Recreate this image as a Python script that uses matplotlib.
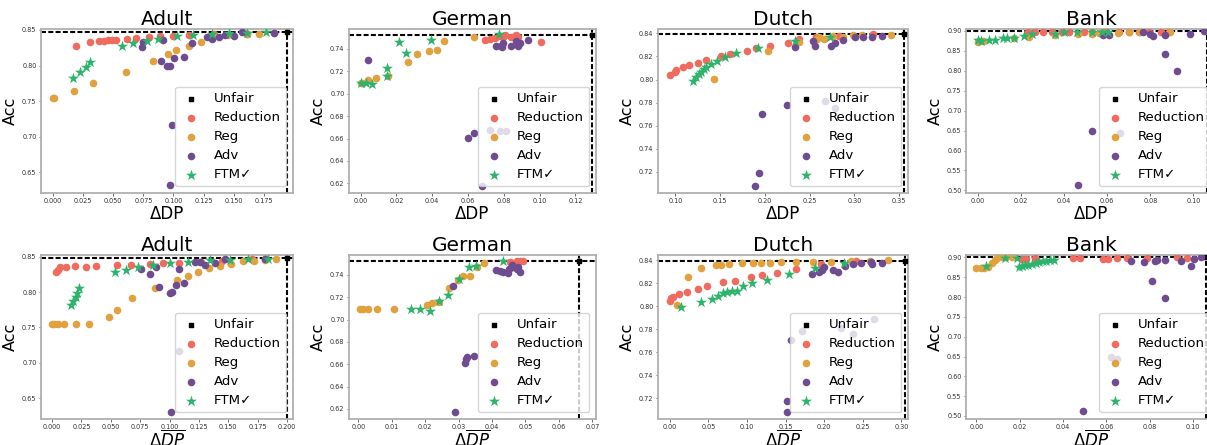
import matplotlib
matplotlib.use("Agg")
import matplotlib.pyplot as plt

# ---------------- data (DP, Acc) ----------------
methods = ["Unfair", "Reduction", "Reg", "Adv", "FTM\u2713"]
datasets = ["Adult", "German", "Dutch", "Bank"]

# Top row: x = DP
A1_red_x = [0.0191, 0.0307, 0.0385, 0.042, 0.0454, 0.0487, 0.0526, 0.0617, 0.0687, 0.0797, 0.0886, 0.0994, 0.1127, 0.1334, 0.161]
A1_red_y = [0.8277, 0.8326, 0.8345, 0.835, 0.8354, 0.8354, 0.8359, 0.8378, 0.8387, 0.8401, 0.8415, 0.8415, 0.8425, 0.8439, 0.844]
A1_reg_x = [0.0, 0.001, 0.0174, 0.033, 0.0606, 0.0828, 0.0952, 0.1025, 0.1127, 0.1227, 0.1334, 0.145, 0.161, 0.1714, 0.1833]
A1_reg_y = [0.7547, 0.7551, 0.7645, 0.775, 0.7913, 0.8063, 0.8167, 0.8223, 0.8279, 0.8331, 0.8411, 0.8425, 0.844, 0.8448, 0.8453]
A1_adv_x = [0.0748, 0.0742, 0.0914, 0.0894, 0.0975, 0.0950, 0.1002, 0.1088, 0.1157, 0.0991, 0.0975, 0.128, 0.1323, 0.138, 0.150, 0.157, 0.1833, 0.143]
A1_adv_y = [0.8326, 0.8256, 0.8359, 0.8068, 0.80, 0.80, 0.81, 0.8124, 0.8322, 0.7167, 0.6317, 0.840, 0.8369, 0.8397, 0.842, 0.8467, 0.8462, 0.843]
A1_ftm_x = [0.0166, 0.0224, 0.0277, 0.0305, 0.0573, 0.0667, 0.0778, 0.0875, 0.103, 0.1163, 0.1318, 0.1462, 0.1611, 0.1769]
A1_ftm_y = [0.7829, 0.7904, 0.7979, 0.805, 0.8275, 0.8312, 0.834, 0.8378, 0.8415, 0.8425, 0.8439, 0.8453, 0.8462, 0.8467]
A1_unfair = (0.1943, 0.8472)

G1_red_x = [0.0694, 0.0722, 0.075, 0.0778, 0.0806, 0.0838, 0.0868, 0.088, 0.1006, 0.0797]
G1_red_y = [0.7474, 0.7486, 0.7498, 0.751, 0.7522, 0.7504, 0.7519, 0.75, 0.7462, 0.75]
G1_reg_x = [0.0, 0.0006, 0.0041, 0.0088, 0.0155, 0.0265, 0.0315, 0.0382, 0.0429, 0.0468, 0.0634]
G1_reg_y = [0.709, 0.7094, 0.7124, 0.7142, 0.7154, 0.7281, 0.735, 0.7379, 0.7391, 0.7471, 0.7504]
G1_adv_x = [0.0041, 0.0601, 0.0631, 0.0722, 0.0778, 0.081, 0.0679, 0.0756, 0.0787, 0.0797, 0.0838, 0.0868, 0.088, 0.089, 0.0933, 0.0791]
G1_adv_y = [0.7299, 0.6605, 0.6652, 0.6679, 0.6664, 0.6664, 0.618, 0.7424, 0.7424, 0.745, 0.7424, 0.7465, 0.7424, 0.745, 0.7474, 0.7415]
G1_ftm_x = [0.0004, 0.0028, 0.0063, 0.0147, 0.0147, 0.0213, 0.0256, 0.0392, 0.0771]
G1_ftm_y = [0.7094, 0.7094, 0.7082, 0.7228, 0.716, 0.7462, 0.7361, 0.748, 0.7528]
G1_unfair = (0.1295, 0.7525)

D1_red_x = [0.0944, 0.10, 0.1011, 0.1082, 0.115, 0.125, 0.1344, 0.1512, 0.1613, 0.1796, 0.1905, 0.2062, 0.2256, 0.2383, 0.257, 0.283, 0.3206]
D1_red_y = [0.8039, 0.807, 0.8082, 0.8105, 0.8123, 0.8146, 0.8166, 0.8203, 0.8221, 0.825, 0.827, 0.8293, 0.8319, 0.8351, 0.8365, 0.838, 0.8391]
D1_reg_x = [0.1437, 0.2036, 0.2383, 0.2581, 0.2664, 0.287, 0.298, 0.309, 0.3411, 0.2607, 0.2757]
D1_reg_y = [0.8007, 0.8244, 0.8322, 0.8354, 0.8354, 0.8371, 0.8388, 0.8388, 0.8388, 0.8365, 0.8376]
D1_adv_x = [0.2335, 0.254, 0.2559, 0.2738, 0.278, 0.2877, 0.3004, 0.3093, 0.32, 0.331, 0.2252, 0.1965, 0.1935, 0.1886, 0.2675, 0.278]
D1_adv_y = [0.8282, 0.8334, 0.8293, 0.8293, 0.8313, 0.8339, 0.8365, 0.8368, 0.8371, 0.838, 0.7782, 0.7706, 0.7195, 0.7079, 0.7813, 0.775]
D1_ftm_x = [0.1194, 0.1232, 0.1262, 0.1292, 0.1321, 0.1348, 0.1393, 0.146, 0.1553, 0.168, 0.1923, 0.2335, 0.2731]
D1_ftm_y = [0.799, 0.8024, 0.8047, 0.8068, 0.8088, 0.8111, 0.8131, 0.8157, 0.8198, 0.8232, 0.8273, 0.8331, 0.8371]
D1_unfair = (0.3553, 0.8394)

B1_red_x = [0.0234, 0.0268, 0.0302, 0.0346, 0.0392, 0.0423, 0.0493, 0.0532, 0.0594, 0.0656, 0.0702, 0.0749, 0.0795, 0.085, 0.0888]
B1_red_y = [0.8985, 0.8985, 0.8985, 0.898, 0.898, 0.8975, 0.8975, 0.8975, 0.898, 0.898, 0.8985, 0.8975, 0.8975, 0.898, 0.898]
B1_reg_x = [0.0, 0.0008, 0.0023, 0.0167, 0.024, 0.036, 0.0467, 0.053, 0.065, 0.070, 0.075, 0.089, 0.056]
B1_reg_y = [0.873, 0.874, 0.875, 0.883, 0.886, 0.889, 0.8917, 0.893, 0.896, 0.8975, 0.8975, 0.8975, 0.8945]
B1_adv_x = [0.0583, 0.061, 0.0767, 0.080, 0.0812, 0.087, 0.0867, 0.0922, 0.0984, 0.105, 0.0532, 0.0465, 0.066]
B1_adv_y = [0.889, 0.889, 0.8967, 0.8933, 0.888, 0.889, 0.8416, 0.799, 0.8933, 0.90, 0.6488, 0.5135, 0.644]
B1_ftm_x = [0.0, 0.0017, 0.0051, 0.0079, 0.0118, 0.0136, 0.0167, 0.0214, 0.025, 0.0358, 0.04, 0.0462, 0.0532, 0.0578, 0.0602]
B1_ftm_y = [0.8775, 0.8758, 0.8775, 0.878, 0.8825, 0.8825, 0.883, 0.8875, 0.8917, 0.8925, 0.8975, 0.8975, 0.8975, 0.8975, 0.897]
B1_unfair = (0.1063, 0.901)

# Bottom row: x = DP-bar
A2_red_x = [0.0037, 0.0049, 0.0066, 0.0117, 0.0197, 0.0289, 0.0377, 0.0557, 0.0671, 0.0834, 0.0943, 0.1077, 0.1271, 0.1443, 0.17, 0.1814]
A2_red_y = [0.8282, 0.8315, 0.8348, 0.8353, 0.8363, 0.8358, 0.8367, 0.8377, 0.8386, 0.8396, 0.8405, 0.841, 0.8429, 0.8443, 0.8467, 0.8472]
A2_reg_x = [0.0, 0.002, 0.0051, 0.01, 0.02, 0.0317, 0.0486, 0.0551, 0.0677, 0.0877, 0.1063, 0.1157, 0.1243, 0.1337, 0.1429, 0.1523, 0.1629, 0.172, 0.1814, 0.1906]
A2_reg_y = [0.7543, 0.7543, 0.7543, 0.7543, 0.7543, 0.7543, 0.7647, 0.7746, 0.7912, 0.8059, 0.8173, 0.823, 0.8282, 0.8339, 0.8372, 0.84, 0.8434, 0.8443, 0.8448, 0.8462]
A2_adv_x = [0.076, 0.0837, 0.0886, 0.0914, 0.1, 0.102, 0.1057, 0.1077, 0.1123, 0.1214, 0.126, 0.13, 0.1386, 0.1471, 0.1809, 0.1014, 0.1077]
A2_adv_y = [0.833, 0.8258, 0.8358, 0.8069, 0.7993, 0.7998, 0.8102, 0.833, 0.8126, 0.8424, 0.842, 0.8386, 0.841, 0.8471, 0.8467, 0.63, 0.7164]
A2_ftm_x = [0.0163, 0.018, 0.02, 0.0214, 0.0229, 0.0537, 0.0629, 0.0734, 0.0863, 0.1, 0.1157, 0.1343, 0.1511, 0.1671, 0.1834]
A2_ftm_y = [0.7818, 0.7879, 0.7931, 0.7993, 0.8055, 0.8282, 0.8315, 0.8348, 0.8377, 0.8415, 0.8419, 0.8453, 0.8453, 0.8467, 0.8472]
A2_unfair = (0.2, 0.8476)

G2_red_x = [0.0454, 0.0464, 0.0474, 0.0492, 0.0484]
G2_red_y = [0.7514, 0.7505, 0.752, 0.752, 0.7526]
G2_reg_x = [0.0004, 0.0014, 0.0029, 0.0056, 0.0107, 0.0204, 0.0221, 0.0242, 0.0271, 0.0299, 0.0312, 0.0334, 0.0356, 0.0377]
G2_reg_y = [0.7091, 0.7091, 0.7091, 0.7091, 0.7091, 0.713, 0.7145, 0.716, 0.7286, 0.7355, 0.7385, 0.7391, 0.7469, 0.7505]
G2_adv_x = [0.0284, 0.0318, 0.0322, 0.0324, 0.0347, 0.0289, 0.0411, 0.0424, 0.0434, 0.0449, 0.0464, 0.0474, 0.0484, 0.0451, 0.0459, 0.0479]
G2_adv_y = [0.7301, 0.6608, 0.665, 0.6665, 0.6674, 0.6174, 0.7439, 0.743, 0.7424, 0.7415, 0.7466, 0.745, 0.7424, 0.7451, 0.749, 0.7466]
G2_ftm_x = [0.0157, 0.0184, 0.0214, 0.0242, 0.0269, 0.0302, 0.0331, 0.0351, 0.0434]
G2_ftm_y = [0.7091, 0.7091, 0.7079, 0.7166, 0.722, 0.7361, 0.7469, 0.7481, 0.7526]
G2_unfair = (0.0659, 0.7526)

D2_red_x = [0.0, 0.0017, 0.0043, 0.0117, 0.0225, 0.0364, 0.0486, 0.0694, 0.0846, 0.1058, 0.1201, 0.1388, 0.1635, 0.196, 0.2415]
D2_red_y = [0.8045, 0.8069, 0.8083, 0.8109, 0.8127, 0.815, 0.8173, 0.8208, 0.822, 0.8249, 0.8272, 0.8292, 0.8322, 0.8365, 0.8394]
D2_reg_x = [0.0095, 0.0239, 0.0399, 0.0594, 0.0659, 0.0768, 0.0932, 0.1084, 0.118, 0.1301, 0.1448, 0.1635, 0.1852, 0.2094, 0.235, 0.2589, 0.2827]
D2_reg_y = [0.801, 0.8249, 0.8327, 0.8356, 0.8359, 0.8365, 0.8371, 0.8377, 0.8377, 0.8377, 0.838, 0.8383, 0.8383, 0.8383, 0.8391, 0.8394, 0.84]
D2_adv_x = [0.1838, 0.1938, 0.2003, 0.2112, 0.2186, 0.2272, 0.2372, 0.248, 0.2602, 0.2615, 0.2754, 0.1518, 0.1518, 0.1574, 0.1713, 0.222, 0.238, 0.2645, 0.197]
D2_adv_y = [0.8281, 0.8295, 0.8336, 0.831, 0.8295, 0.8345, 0.8368, 0.8374, 0.8383, 0.8362, 0.8377, 0.7182, 0.7083, 0.7711, 0.7784, 0.7813, 0.7755, 0.7886, 0.8315]
D2_ftm_x = [0.0152, 0.0399, 0.0551, 0.0629, 0.069, 0.0746, 0.0802, 0.0867, 0.095, 0.1071, 0.1266, 0.1548, 0.1886, 0.2264]
D2_ftm_y = [0.799, 0.804, 0.8066, 0.8089, 0.8115, 0.8124, 0.813, 0.8135, 0.8176, 0.8199, 0.8226, 0.8281, 0.833, 0.8374]
D2_unfair = (0.3044, 0.8394)

B2_red_x = [0.0212, 0.0227, 0.0271, 0.0445, 0.0476, 0.0584, 0.0605, 0.0647, 0.0693, 0.0786, 0.0926, 0.0972]
B2_red_y = [0.8966, 0.8966, 0.8975, 0.8983, 0.8983, 0.8966, 0.8966, 0.8983, 0.8983, 0.8983, 0.90, 0.8983]
B2_reg_x = [0.0, 0.0019, 0.0037, 0.0054, 0.007, 0.0085, 0.0096, 0.0119, 0.0135, 0.0166]
B2_reg_y = [0.8731, 0.8731, 0.8731, 0.8748, 0.8857, 0.8941, 0.8983, 0.90, 0.90, 0.90]
B2_adv_x = [0.0712, 0.0774, 0.0825, 0.0833, 0.0871, 0.0812, 0.0868, 0.0944, 0.0991, 0.1006, 0.1034, 0.0491, 0.0619, 0.0647]
B2_adv_y = [0.8899, 0.8882, 0.8899, 0.8924, 0.8924, 0.8412, 0.7983, 0.8916, 0.8782, 0.8958, 0.90, 0.5126, 0.6479, 0.6445]
B2_ftm_x = [0.0042, 0.0132, 0.0186, 0.0197, 0.0212, 0.0225, 0.024, 0.0256, 0.0274, 0.029, 0.0305, 0.032, 0.034, 0.036]
B2_ftm_y = [0.8773, 0.8983, 0.8983, 0.8748, 0.8773, 0.8798, 0.8815, 0.8832, 0.8857, 0.8882, 0.8916, 0.8899, 0.8924, 0.8941]
B2_unfair = (0.106, 0.9017)

# tick values
adult_top_xticks = [0.0, 0.025, 0.05, 0.075, 0.1, 0.125, 0.15, 0.175]
adult_bot_xticks = [0.0, 0.025, 0.05, 0.075, 0.1, 0.125, 0.15, 0.175, 0.2]
adult_yticks = [0.65, 0.70, 0.75, 0.80, 0.85]
german_top_xticks = [0.0, 0.02, 0.04, 0.06, 0.08, 0.10, 0.12]
german_bot_xticks = [0.0, 0.01, 0.02, 0.03, 0.04, 0.05, 0.06, 0.07]
german_yticks = [0.62, 0.64, 0.66, 0.68, 0.70, 0.72, 0.74]
dutch_top_xticks = [0.10, 0.15, 0.20, 0.25, 0.30, 0.35]
dutch_bot_xticks = [0.0, 0.05, 0.10, 0.15, 0.20, 0.25, 0.30]
dutch_yticks = [0.72, 0.74, 0.76, 0.78, 0.80, 0.82, 0.84]
bank_xticks = [0.0, 0.02, 0.04, 0.06, 0.08, 0.10]
bank_yticks = [0.50, 0.55, 0.60, 0.65, 0.70, 0.75, 0.80, 0.85, 0.90]

# ---------------- style ----------------
C_RED = "#EE6B5E"
C_ORG = "#E0A13E"
C_PUR = "#6E4C8F"
C_GRN = "#2DB36B"

W, H = 1207, 445
fig = plt.figure(figsize=(W / 100, H / 100), dpi=100)

cols = [(41, 293), (349, 596), (658, 908), (966, 1217)]
rows = [(29, 193), (255, 419)]

def pos(col, row):
    x0, x1 = cols[col]
    y0, y1 = rows[row]
    return [x0 / W, 1 - y1 / H, (x1 - x0) / W, (y1 - y0) / H]

panels = [
    # (col, row, name, red, reg, adv, ftm, unfair, xlim, ylim, xticks, yticks)
    (0, 0, datasets[0], (A1_red_x, A1_red_y), (A1_reg_x, A1_reg_y), (A1_adv_x, A1_adv_y), (A1_ftm_x, A1_ftm_y), A1_unfair,
     (-0.00997, 0.1993), (0.621, 0.8514), adult_top_xticks, adult_yticks),
    (1, 0, datasets[1], (G1_red_x, G1_red_y), (G1_reg_x, G1_reg_y), (G1_adv_x, G1_adv_y), (G1_ftm_x, G1_ftm_y), G1_unfair,
     (-0.0065, 0.1315), (0.6115, 0.7575), german_top_xticks, german_yticks),
    (2, 0, datasets[2], (D1_red_x, D1_red_y), (D1_reg_x, D1_reg_y), (D1_adv_x, D1_adv_y), (D1_ftm_x, D1_ftm_y), D1_unfair,
     (0.0806, 0.36), (0.7018, 0.8438), dutch_top_xticks, dutch_yticks),
    (3, 0, datasets[3], (B1_red_x, B1_red_y), (B1_reg_x, B1_reg_y), (B1_adv_x, B1_adv_y), (B1_ftm_x, B1_ftm_y), B1_unfair,
     (-0.0054, 0.1109), (0.4935, 0.905), bank_xticks, bank_yticks),
    (0, 1, datasets[0], (A2_red_x, A2_red_y), (A2_reg_x, A2_reg_y), (A2_adv_x, A2_adv_y), (A2_ftm_x, A2_ftm_y), A2_unfair,
     (-0.0094, 0.2051), (0.6206, 0.8524), adult_bot_xticks, adult_yticks),
    (1, 1, datasets[1], (G2_red_x, G2_red_y), (G2_reg_x, G2_reg_y), (G2_adv_x, G2_adv_y), (G2_ftm_x, G2_ftm_y), G2_unfair,
     (-0.0028, 0.0711), (0.611, 0.7577), german_bot_xticks, german_yticks),
    (2, 1, datasets[2], (D2_red_x, D2_red_y), (D2_reg_x, D2_reg_y), (D2_adv_x, D2_adv_y), (D2_ftm_x, D2_ftm_y), D2_unfair,
     (-0.0152, 0.3087), (0.7022, 0.8444), dutch_bot_xticks, dutch_yticks),
    (3, 1, datasets[3], (B2_red_x, B2_red_y), (B2_reg_x, B2_reg_y), (B2_adv_x, B2_adv_y), (B2_ftm_x, B2_ftm_y), B2_unfair,
     (-0.0048, 0.1110), (0.4924, 0.906), bank_xticks, bank_yticks),
]

S_DOT = 30
S_STAR = 70

for (col, row, name, red, reg, adv, ftm, unfair, xlim, ylim, xt, yt) in panels:
    ax = fig.add_axes(pos(col, row))
    ux, uy = unfair
    ax.axhline(uy, color="black", lw=1.5, ls=(0, (2.4, 1.1)), zorder=2)
    ax.axvline(ux, color="black", lw=1.5, ls=(0, (2.4, 1.1)), zorder=2)
    ax.scatter([ux], [uy], marker="s", s=10, color="black", label=methods[0], zorder=3)
    ax.scatter(red[0], red[1], s=S_DOT, color=C_RED, label=methods[1], zorder=3, linewidths=0)
    ax.scatter(reg[0], reg[1], s=S_DOT, color=C_ORG, label=methods[2], zorder=3, linewidths=0)
    ax.scatter(adv[0], adv[1], s=S_DOT, color=C_PUR, label=methods[3], zorder=3, linewidths=0)
    ax.scatter(ftm[0], ftm[1], s=S_STAR, marker="*", color=C_GRN, label=methods[4], zorder=3, linewidths=0)
    ax.set_xlim(*xlim)
    ax.set_ylim(*ylim)
    ax.set_xticks(xt)
    ax.set_yticks(yt)
    ax.tick_params(labelsize=4.7, length=1.8, width=0.5, pad=1.5, colors="#333333")
    for sp in ax.spines.values():
        sp.set_color("#b0b0b0")
        sp.set_linewidth(1.3)
    ax.set_title(name, fontsize=14.5, pad=3)
    ax.set_ylabel("Acc", fontsize=11.5, labelpad=3)
    if row == 0:
        ax.set_xlabel("\u0394DP", fontsize=12, labelpad=1)
    else:
        ax.set_xlabel(r"$\Delta\overline{DP}$", fontsize=12, labelpad=0)
    leg = ax.legend(loc="lower right", fontsize=9.6, framealpha=0.8, handletextpad=0.9,
                    borderpad=0.4, labelspacing=0.45, handlelength=1.6)
    leg.set_zorder(5)

fig.savefig("out.png", dpi=100)
